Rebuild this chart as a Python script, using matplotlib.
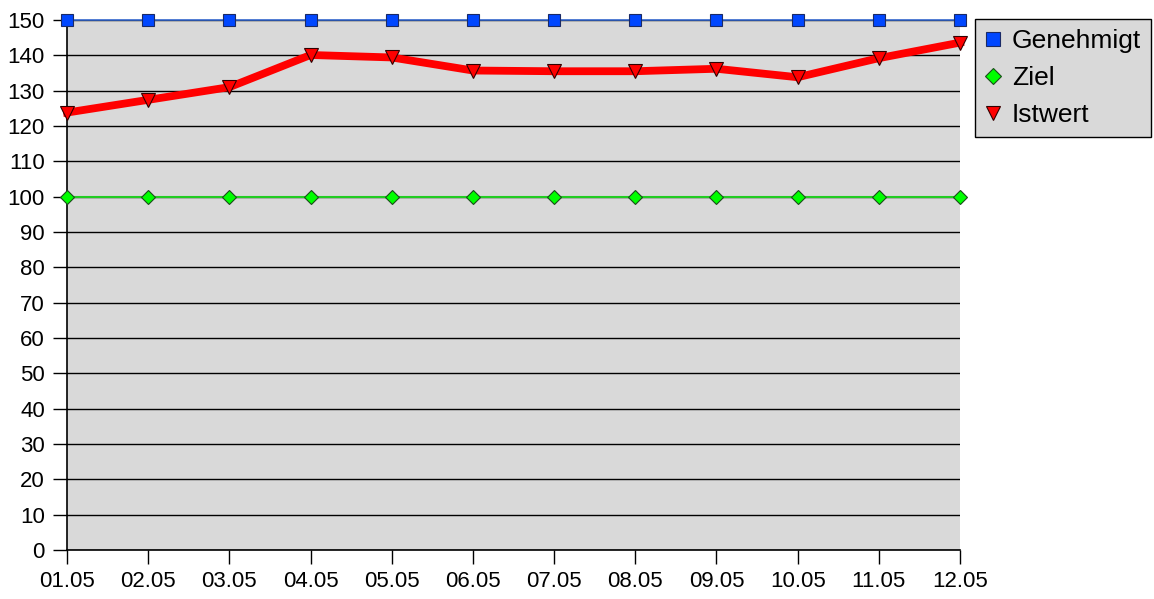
import matplotlib
matplotlib.use("Agg")
import matplotlib.pyplot as plt
from matplotlib.lines import Line2D

plt.rcParams['font.family'] = ['Liberation Sans', 'DejaVu Sans']

dates = ["01.05", "02.05", "03.05", "04.05", "05.05", "06.05",
         "07.05", "08.05", "09.05", "10.05", "11.05", "12.05"]
genehmigt = [150] * 12
ziel = [100] * 12
istwert = [123.8, 127.4, 131.0, 140.1, 139.4, 135.7, 135.5, 135.5, 136.2, 133.8, 139.2, 143.6]
yticks = list(range(0, 151, 10))

fig = plt.figure(figsize=(11.54, 5.99), dpi=100)
ax = fig.add_axes([67 / 1154, 49 / 599, 893 / 1154, 530 / 599])
ax.set_facecolor('#d9d9d9')

x = list(range(len(dates)))
ax.set_xlim(0, len(dates) - 1)
ax.set_ylim(0, 150)
ax.set_yticks(yticks)
ax.set_xticks(x)
ax.set_xticklabels(dates)
ax.grid(axis='y', color='black', linewidth=1.0)
ax.set_axisbelow(True)

ax.plot(x, genehmigt, color='#3366cc', linewidth=1.2, marker='s', markersize=8.5,
        markerfacecolor='#0047ff', markeredgecolor='#1a2a66', markeredgewidth=0.8,
        clip_on=False, zorder=4)
ax.plot(x, ziel, color='#22cc22', linewidth=1.5, marker='D', markersize=7,
        markerfacecolor='#00ff00', markeredgecolor='#1a4d1a', markeredgewidth=0.8,
        clip_on=False, zorder=4)
ax.plot(x, istwert, color='#ff0000', linewidth=5.6, marker='v', markersize=9.5,
        markerfacecolor='#ff0000', markeredgecolor='#330000', markeredgewidth=0.8,
        clip_on=False, zorder=5)

for s in ['top', 'right']:
    ax.spines[s].set_visible(False)
for s in ['left', 'bottom']:
    ax.spines[s].set_color('black')
    ax.spines[s].set_linewidth(1.2)
    ax.spines[s].set_zorder(3)
ax.tick_params(axis='both', direction='out', length=10, width=1.0, labelsize=16,
               colors='black')
ax.tick_params(axis='y', pad=6)
ax.tick_params(axis='x', pad=5)

handles = [
    Line2D([], [], linestyle='none', marker='s', markersize=10, markerfacecolor='#0047ff',
           markeredgecolor='#1a2a66', markeredgewidth=0.8),
    Line2D([], [], linestyle='none', marker='D', markersize=8, markerfacecolor='#00ff00',
           markeredgecolor='#1a4d1a', markeredgewidth=0.8),
    Line2D([], [], linestyle='none', marker='v', markersize=10, markerfacecolor='#ff0000',
           markeredgecolor='#330000', markeredgewidth=0.8),
]
leg = fig.legend(handles, ["Genehmigt", "Ziel", "Istwert"], loc='upper left',
                 bbox_to_anchor=(975 / 1154, 1 - 19 / 599), fontsize=19,
                 frameon=True, fancybox=False, facecolor='#d9d9d9', edgecolor='black',
                 framealpha=1, borderpad=0.38, handletextpad=0.42, labelspacing=0.5,
                 handlelength=0.6, borderaxespad=0)
leg.get_frame().set_linewidth(1.0)

fig.savefig("out.png", dpi=100)
